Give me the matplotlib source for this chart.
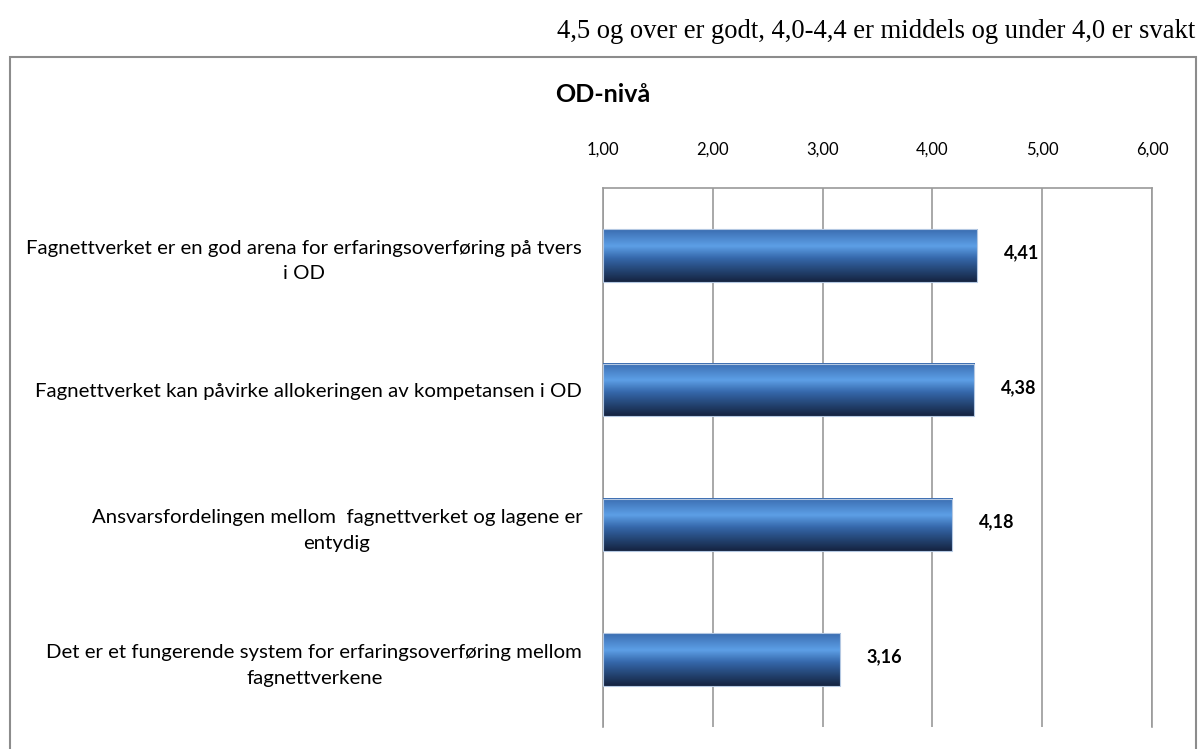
import numpy as np
import matplotlib.pyplot as plt
from matplotlib.patches import Rectangle
from matplotlib.colors import LinearSegmentedColormap

# survey statements and mean scores
questions = [
    "Fagnettverket er en god arena for erfaringsoverføring på tvers\ni OD",
    "Fagnettverket kan påvirke allokeringen av kompetansen i OD",
    "Ansvarsfordelingen mellom  fagnettverket og lagene er\nentydig",
    "Det er et fungerende system for erfaringsoverføring mellom\nfagnettverkene",
]
scores = [4.41, 4.38, 4.18, 3.16]
tick_values = [1, 2, 3, 4, 5, 6]
tick_labels = ["1,00", "2,00", "3,00", "4,00", "5,00", "6,00"]

sans = ["Lato", "DejaVu Sans"]
serif = ["Liberation Serif", "DejaVu Serif"]

W, H = 1201, 749
fig = plt.figure(figsize=(W / 100, H / 100), dpi=100)

# outer chart frame (runs off the bottom of the page)
fig.add_artist(Rectangle((10 / W, -0.05), 1186 / W, 1 - 57 / H + 0.05,
                         transform=fig.transFigure, fill=False,
                         edgecolor="#8c8c8c", linewidth=1.5))

fig.text(1195 / W, 1 - 31 / H,
         "4,5 og over er godt, 4,0-4,4 er middels og under 4,0 er svakt",
         ha="right", va="center", fontsize=19.2, family=serif)
fig.text(603 / W, 1 - 95 / H, "OD-nivå", ha="center", va="center",
         fontsize=18, fontweight="bold", family=sans)

ax = fig.add_axes([603 / W, 1 - 727 / H, (1152 - 603) / W, (727 - 188) / H])

y = np.arange(len(scores))
base = tick_values[0]
bar_h = 0.39
bars = ax.barh(y, np.array(scores) - base, left=base, height=bar_h,
               color="#3a6cb0", edgecolor="#b4c8e2", linewidth=0.8, zorder=2)

# vertical shading inside each bar
shade = LinearSegmentedColormap.from_list("shade", [
    (0.0, "#3a6cb0"), (0.32, "#5d9fe6"), (0.55, "#3567aa"),
    (0.8, "#22416e"), (1.0, "#152340")])
grad = np.linspace(0, 1, 256).reshape(-1, 1)
for yc, v in zip(y, scores):
    ax.imshow(grad, cmap=shade, aspect="auto", interpolation="bicubic",
              extent=(base, v, yc + bar_h / 2, yc - bar_h / 2), zorder=3)
    ax.text(v + 0.24, yc - 0.02, f"{v:.2f}".replace(".", ","), ha="left",
            va="center", fontsize=13, fontweight="bold", family=sans)
for b in bars:
    b.set_zorder(4)
    b.set_facecolor("none")

ax.set_xlim(base, tick_values[-1])
ax.set_ylim(len(scores) - 0.5, -0.5)
ax.xaxis.tick_top()
ax.set_xticks(tick_values)
ax.set_xticklabels(tick_labels, fontsize=12, family=sans)
ax.tick_params(axis="x", length=0, pad=22)
ax.set_yticks(y)
ax.set_yticklabels(questions, fontsize=14.7, family=sans, multialignment="center",
                   linespacing=1.6)
ax.tick_params(axis="y", length=0, pad=15)
ax.grid(axis="x", color="#9a9a9a", linewidth=1.2, zorder=0)
for side in ("left", "top", "right"):
    ax.spines[side].set_color("#9a9a9a")
    ax.spines[side].set_linewidth(1.2)
ax.spines["bottom"].set_visible(False)

fig.savefig("out.png", dpi=100)
